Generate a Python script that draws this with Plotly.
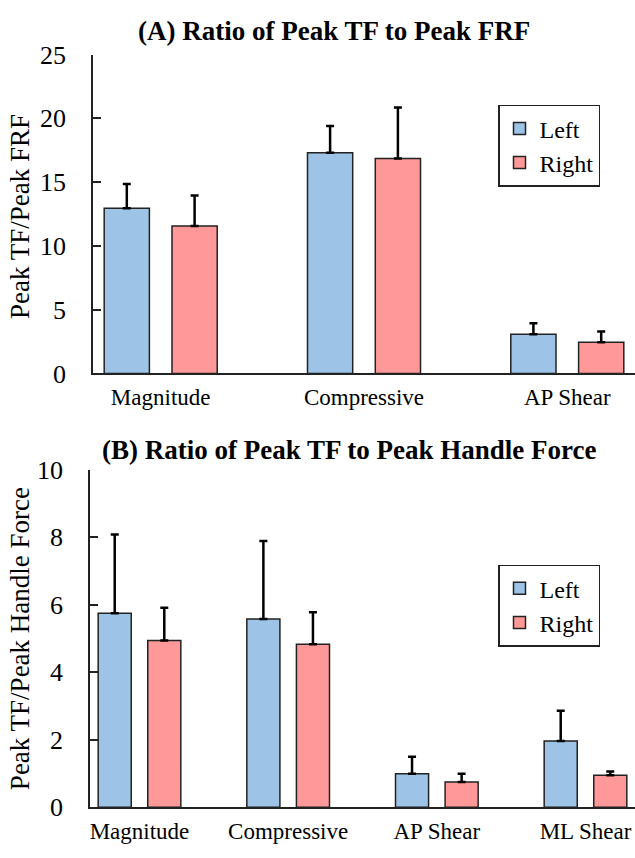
import plotly.graph_objects as go

# Panel A: ratio of peak TF to peak FRF
cats_a = ["Magnitude", "Compressive", "AP Shear"]
left_a = [12.95, 17.3, 3.08]
left_a_err = [1.9, 2.1, 0.86]
right_a = [11.55, 16.85, 2.45]
right_a_err = [2.4, 4.0, 0.83]

# Panel B: ratio of peak TF to peak handle force
cats_b = ["Magnitude", "Compressive", "AP Shear", "ML Shear"]
left_b = [5.75, 5.58, 0.99, 1.96]
left_b_err = [2.33, 2.31, 0.51, 0.9]
right_b = [4.94, 4.83, 0.75, 0.95]
right_b_err = [0.97, 0.95, 0.24, 0.11]

BLUE = "#9dc3e6"
PINK = "#ff9999"
FONT = "'Times New Roman', 'Liberation Serif', 'DejaVu Serif', serif"
W, H = 635, 858


def err(vals):
    return dict(type="data", array=vals, arrayminus=[0] * len(vals), symmetric=False,
                color="black", thickness=2.5, width=4)


fig = go.Figure()

for name, vals, errs, col in [("Left", left_a, left_a_err, BLUE),
                              ("Right", right_a, right_a_err, PINK)]:
    fig.add_trace(go.Bar(x=cats_a, y=vals, name=name, error_y=err(errs),
                         marker=dict(color=col, line=dict(color="#222", width=1.5)),
                         xaxis="x", yaxis="y", legend="legend"))

for name, vals, errs, col in [("Left", left_b, left_b_err, BLUE),
                              ("Right", right_b, right_b_err, PINK)]:
    fig.add_trace(go.Bar(x=cats_b, y=vals, name=name, error_y=err(errs),
                         marker=dict(color=col, line=dict(color="#222", width=1.5)),
                         xaxis="x2", yaxis="y2", legend="legend2"))

xcommon = dict(type="category", showline=True, linecolor="#222", linewidth=1.5,
               ticks="", showgrid=False, zeroline=False,
               tickfont=dict(family=FONT, size=23, color="black"),
               ticklabelstandoff=2)
ycommon = dict(showline=True, linecolor="#222", linewidth=1.5, ticks="inside",
               ticklen=8, tickwidth=1.5, tickcolor="#222", showgrid=False,
               zeroline=False, tickfont=dict(family=FONT, size=26, color="black"),
               ticklabelstandoff=20)

legcommon = dict(font=dict(family=FONT, size=24, color="black"), bordercolor="#222",
                 borderwidth=1.5, bgcolor="white", xanchor="left", yanchor="top",
                 xref="paper", yref="paper", tracegroupgap=0)

fig.update_layout(
    width=W, height=H, margin=dict(l=0, r=0, t=0, b=0),
    paper_bgcolor="white", plot_bgcolor="white",
    font=dict(family=FONT, color="black"),
    barmode="group", bargap=0.333, bargroupgap=0.333,
    xaxis=dict(xcommon, domain=[93 / W, 1], range=[-0.333, 2.333], anchor="y"),
    yaxis=dict(ycommon, domain=[1 - 372 / H, 1 - 42 / H], range=[0, 25],
               tickvals=[0, 5, 10, 15, 20, 25], anchor="x"),
    xaxis2=dict(xcommon, domain=[90 / W, 1], range=[-0.333, 3.333], anchor="y2"),
    yaxis2=dict(ycommon, domain=[1 - 821 / H, 1 - 471.7 / H], range=[0, 10],
                tickvals=[0, 2, 4, 6, 8, 10], anchor="x2"),
    legend=dict(legcommon, x=498 / W, y=1 - 94 / H),
    legend2=dict(legcommon, x=498 / W, y=1 - 570 / H),
    annotations=[
        dict(text="<b>(A) Ratio of Peak TF to Peak FRF</b>", x=333.5 / W, y=1 - 18 / H,
             xref="paper", yref="paper", xanchor="center", yanchor="middle",
             showarrow=False, font=dict(family=FONT, size=27, color="black")),
        dict(text="<b>(B) Ratio of Peak TF to Peak Handle Force</b>", x=348.5 / W,
             y=1 - 451 / H, xref="paper", yref="paper", xanchor="center",
             yanchor="middle", showarrow=False,
             font=dict(family=FONT, size=27, color="black")),
        dict(text="Peak TF/Peak FRF", x=20 / W, y=1 - 210 / H, xref="paper",
             yref="paper", xanchor="center", yanchor="middle", textangle=-90,
             showarrow=False, font=dict(family=FONT, size=27, color="black")),
        dict(text="Peak TF/Peak Handle Force", x=20 / W, y=1 - 647 / H, xref="paper",
             yref="paper", xanchor="center", yanchor="middle", textangle=-90,
             showarrow=False, font=dict(family=FONT, size=27, color="black")),
    ],
)

fig.write_html("out.html")
